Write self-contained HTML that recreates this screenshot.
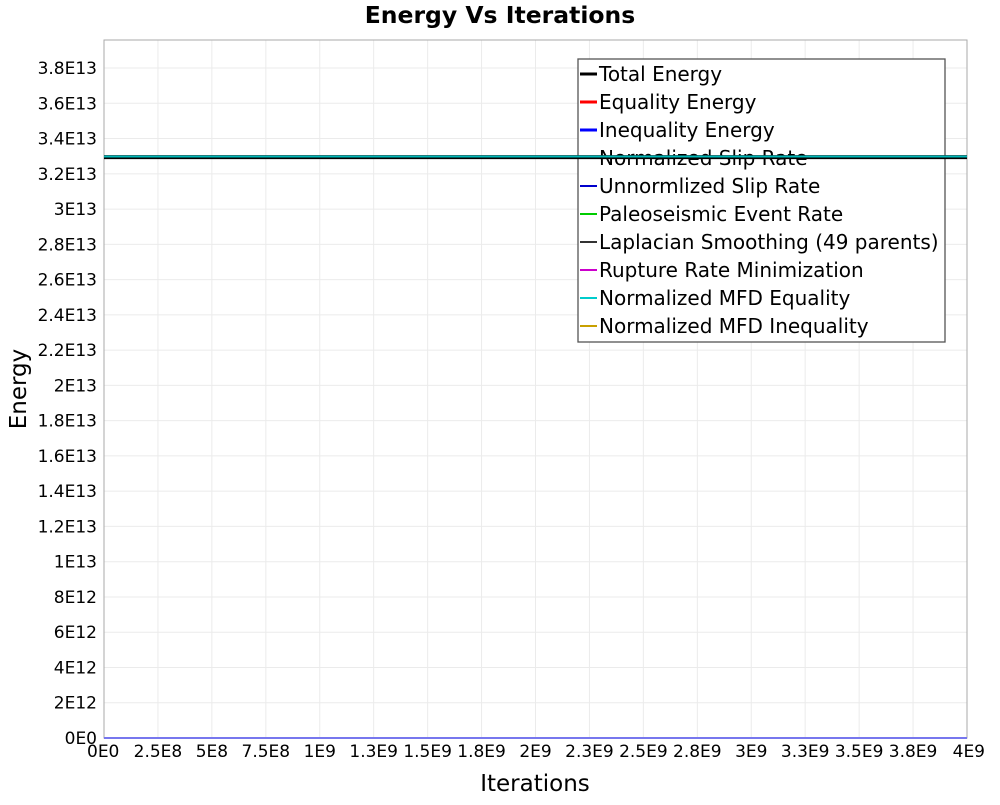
<!DOCTYPE html>
<html><head><meta charset="utf-8"><style>
body{margin:0;background:#fff;}
svg text{font-family:"DejaVu Sans","Liberation Sans",sans-serif;}
</style></head><body>
<svg id="chart" width="1000" height="800" xmlns="http://www.w3.org/2000/svg">
<rect width="1000" height="800" fill="#fff"/>
<text x="500" y="23" text-anchor="middle" font-size="23.5" font-weight="bold">Energy Vs Iterations</text>
<g id="grid"></g>
<g id="ticks"></g>
<rect x="104" y="40" width="863" height="698" fill="none" stroke="#aaa" stroke-width="1"/>
<text transform="translate(26,389) rotate(-90)" text-anchor="middle" font-size="23">Energy</text>
<text x="535" y="791" text-anchor="middle" font-size="23">Iterations</text>
<g id="legend"></g>
<g id="series"></g>
</svg>
<script>
const seriesNames=["Total Energy","Equality Energy","Inequality Energy","Normalized Slip Rate","Unnormlized Slip Rate","Paleoseismic Event Rate","Laplacian Smoothing (49 parents)","Rupture Rate Minimization","Normalized MFD Equality","Normalized MFD Inequality"];
const seriesColors=["#000","#ff0000","#0000ff","#b22222","#0000cc","#00cc00","#333333","#cc00cc","#00cccc","#c8a000"];
const seriesValues=[3.295e13,3.290e13,0,3.290e13,0,0,0,0,3.298e13,0];
const xStart=0, xEnd=4e9;
const yTickLabels=["0E0","2E12","4E12","6E12","8E12","1E13","1.2E13","1.4E13","1.6E13","1.8E13","2E13","2.2E13","2.4E13","2.6E13","2.8E13","3E13","3.2E13","3.4E13","3.6E13","3.8E13"];
const xTickLabels=["0E0","2.5E8","5E8","7.5E8","1E9","1.3E9","1.5E9","1.8E9","2E9","2.3E9","2.5E9","2.8E9","3E9","3.3E9","3.5E9","3.8E9","4E9"];
const NS="http://www.w3.org/2000/svg";
const L=104,R=967,T=40,B=738,yMax=3.959e13;
const xs=v=>L+(v-xStart)/(xEnd-xStart)*(R-L);
const ys=v=>B-v/yMax*(B-T);
function mk(t,a,p){const e=document.createElementNS(NS,t);for(const k in a)e.setAttribute(k,a[k]);p.appendChild(e);return e;}
const grid=document.getElementById('grid'),ticks=document.getElementById('ticks');
yTickLabels.forEach((s,i)=>{const y=ys(i*2e12);
 const g=mk('line',{x1:L,x2:R,y1:y,y2:y,stroke:'#ebebeb'},grid);
 
 
 const t=mk('text',{x:97,y:y+6,'text-anchor':'end','font-size':17},ticks);t.textContent=s;
 
 });
xTickLabels.forEach((s,i)=>{const x=xs(i*2.5e8);
 const g=mk('line',{x1:x,x2:x,y1:T,y2:B,stroke:'#ebebeb'},grid);
 
 
 const t=mk('text',{x:x,y:757,'text-anchor':i==16?'end':(i==0?'start':'middle'),'font-size':17},ticks);t.textContent=s;
 if(i==0)t.setAttribute('x',x-17);
 if(i==16)t.setAttribute('x',x+18);
 
 });
const lg=document.getElementById('legend');
mk('rect',{x:578,y:59,width:367,height:283,fill:'#fff',stroke:'#555','stroke-width':1.3},lg);
seriesNames.forEach((n,i)=>{const y=74+i*28;
 const ln=mk('line',{x1:580,x2:597,y1:y,y2:y,stroke:seriesColors[i],'stroke-width':i<3?3:2},lg);
 
 
 const t=mk('text',{x:599,y:y+7,'font-size':20},lg);t.textContent=n;
 
 });
const sg=document.getElementById('series');
const order=[9,7,6,5,4,2,3,1,0,8];
order.forEach(i=>{const v=seriesValues[i];let c=seriesColors[i];let w=i==0?4:2;
 if(v===0&&(i==2))c='#7777ee';
 const ln=mk('line',{x1:xs(xStart),x2:xs(xEnd),y1:ys(v),y2:ys(v),stroke:c,'stroke-width':w,opacity:i==8?0.9:1},sg);
 
 });
</script>
</body></html>
